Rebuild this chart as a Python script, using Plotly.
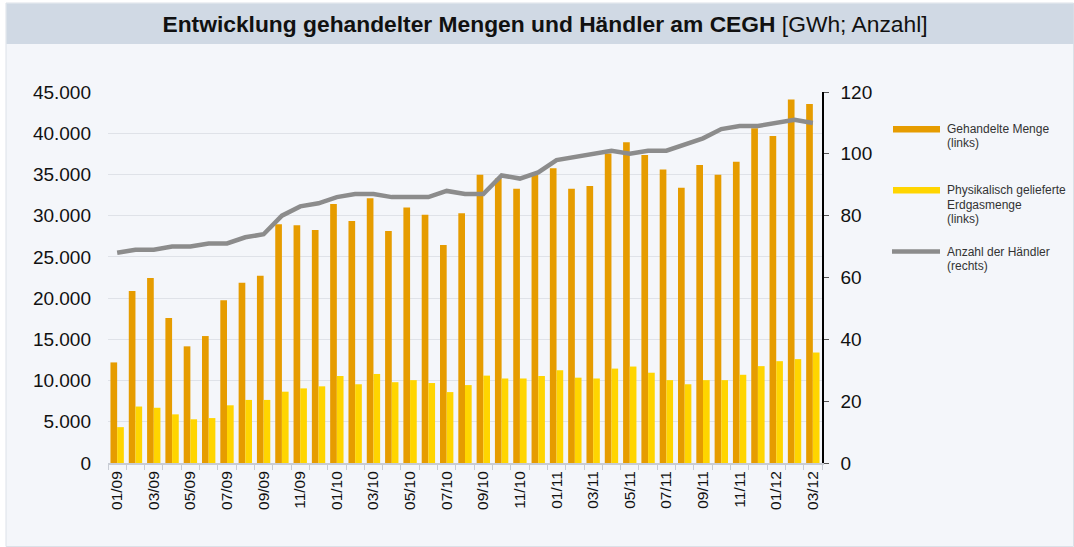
import plotly.graph_objects as go

# ---- data ----
months = ["01/09", "02/09", "03/09", "04/09", "05/09", "06/09", "07/09", "08/09", "09/09", "10/09", "11/09", "12/09",
          "01/10", "02/10", "03/10", "04/10", "05/10", "06/10", "07/10", "08/10", "09/10", "10/10", "11/10", "12/10",
          "01/11", "02/11", "03/11", "04/11", "05/11", "06/11", "07/11", "08/11", "09/11", "10/11", "11/11", "12/11",
          "01/12", "02/12", "03/12"]

gehandelte_menge = [12200, 20850, 22450, 17600, 14150, 15400, 19750, 21850, 22700, 28950, 28850, 28250,
                    31400, 29350, 32100, 28150, 31000, 30100, 26450, 30300, 34950, 34500, 33250, 34950,
                    35750, 33250, 33600, 37550, 38900, 37350, 35600, 33400, 36150, 34950, 36550, 40600,
                    39650, 44100, 43550]

physikalisch_geliefert = [4350, 6850, 6700, 5900, 5300, 5450, 7000, 7650, 7650, 8650, 9050, 9300,
                          10550, 9550, 10800, 9800, 10050, 9700, 8600, 9450, 10600, 10250, 10250, 10550,
                          11250, 10350, 10250, 11450, 11700, 10950, 10050, 9550, 10050, 10050, 10700, 11750,
                          12350, 12600, 13400]

anzahl_haendler = [68, 69, 69, 70, 70, 71, 71, 73, 74, 80, 83, 84,
                   86, 87, 87, 86, 86, 86, 88, 87, 87, 93, 92, 94,
                   98, 99, 100, 101, 100, 101, 101, 103, 105, 108, 109, 109,
                   110, 111, 110]

tick_labels = [m if i % 2 == 0 else "" for i, m in enumerate(months)]

legend_names = [["Gehandelte Menge", "(links)"],
                ["Physikalisch gelieferte", "Erdgasmenge", "(links)"],
                ["Anzahl der Händler", "(rechts)"]]

title_bold = "Entwicklung gehandelter Mengen und Händler am CEGH"
title_unit = "[GWh; Anzahl]"

# ---- style ----
ORANGE = "#E69C00"
YELLOW = "#FFD500"
GREY = "#8C8C8C"
FONT = "Arial, Liberation Sans, sans-serif"

W, H = 1074, 547
L, R, T, B = 108, 822, 92, 463  # plot area in pixels


def px(x):
    return (x - L) / (R - L)


def py(y):
    return (B - y) / (B - T)


fig = go.Figure()
fig.add_trace(go.Bar(x=months, y=gehandelte_menge, marker=dict(color=ORANGE, line=dict(width=0)),
                     name="Gehandelte Menge (links)", showlegend=False))
fig.add_trace(go.Bar(x=months, y=physikalisch_geliefert, marker=dict(color=YELLOW, line=dict(width=0)),
                     name="Physikalisch gelieferte Erdgasmenge (links)", showlegend=False))
fig.add_trace(go.Scatter(x=months, y=anzahl_haendler, mode="lines", yaxis="y2",
                         line=dict(color=GREY, width=4.5), name="Anzahl der Händler (rechts)",
                         showlegend=False))

shapes = [
    # panel
    dict(type="rect", xref="paper", yref="paper", x0=px(6), x1=px(1073.5), y0=py(546.5), y1=py(3),
         fillcolor="#F4F6FA", line=dict(color="#DCE1E8", width=1), layer="below"),
    # title band
    dict(type="rect", xref="paper", yref="paper", x0=px(6.5), x1=px(1073.5), y0=py(44), y1=py(3.5),
         fillcolor="#D0D9E4", line=dict(width=0), layer="below"),
    # legend samples
    dict(type="rect", xref="paper", yref="paper", x0=px(893), x1=px(940), y0=py(132.5), y1=py(126),
         fillcolor=ORANGE, line=dict(width=0)),
    dict(type="rect", xref="paper", yref="paper", x0=px(893), x1=px(940), y0=py(193.5), y1=py(187),
         fillcolor=YELLOW, line=dict(width=0)),
    dict(type="line", xref="paper", yref="paper", x0=px(892), x1=px(940), y0=py(251.5), y1=py(251.5),
         line=dict(color=GREY, width=4.5)),
]

annotations = []
legend_line_y = [[129, 142.7], [190.3, 205, 218.7], [252, 265.7]]
for names, ys in zip(legend_names, legend_line_y):
    for txt, yy in zip(names, ys):
        annotations.append(dict(text=txt, xref="paper", yref="paper", x=px(945), y=py(yy),
                                xanchor="left", yanchor="middle", showarrow=False,
                                font=dict(family=FONT, size=12, color="#333333")))

fig.update_layout(
    width=W, height=H,
    margin=dict(l=L, r=W - R, t=T, b=H - B, pad=0),
    paper_bgcolor="white",
    plot_bgcolor="rgba(0,0,0,0)",
    separators=",.",
    barmode="group",
    bargap=0.27,
    bargroupgap=0,
    showlegend=False,
    title=dict(text="<b>" + title_bold + "</b> " + title_unit, xref="container", yref="container",
               x=545 / W, y=1 - 24 / H, xanchor="center", yanchor="middle",
               font=dict(family=FONT, size=22.8, color="#111111")),
    xaxis=dict(type="category", tickmode="array", tickvals=months, ticktext=tick_labels,
               tickson="boundaries", ticks="outside", ticklen=5, tickcolor="#C8CCD4",
               tickangle=-90, showline=True, linecolor="#C8CCD4", linewidth=2,
               showgrid=False, tickfont=dict(family=FONT, size=15.5, color="#111111"),
               range=[-0.5, len(months) - 0.5]),
    yaxis=dict(range=[0, 45000], dtick=5000, tickformat=",.0f", showgrid=True,
               gridcolor="#DFE2E8", gridwidth=1, zeroline=False, showline=False, ticks="",
               ticklabelstandoff=16,
               tickfont=dict(family=FONT, size=19, color="#111111")),
    yaxis2=dict(range=[0, 120], dtick=20, overlaying="y", side="right", showgrid=False,
                zeroline=False, showline=True, linecolor="#000000", linewidth=1.5,
                ticks="outside", ticklen=5, tickcolor="#555555", ticklabelstandoff=8,
                tickfont=dict(family=FONT, size=19, color="#111111")),
    shapes=shapes,
    annotations=annotations,
)

fig.write_html("out.html", config={"displayModeBar": False},
               post_script="document.body.style.margin='0';document.body.style.overflow='hidden';")
